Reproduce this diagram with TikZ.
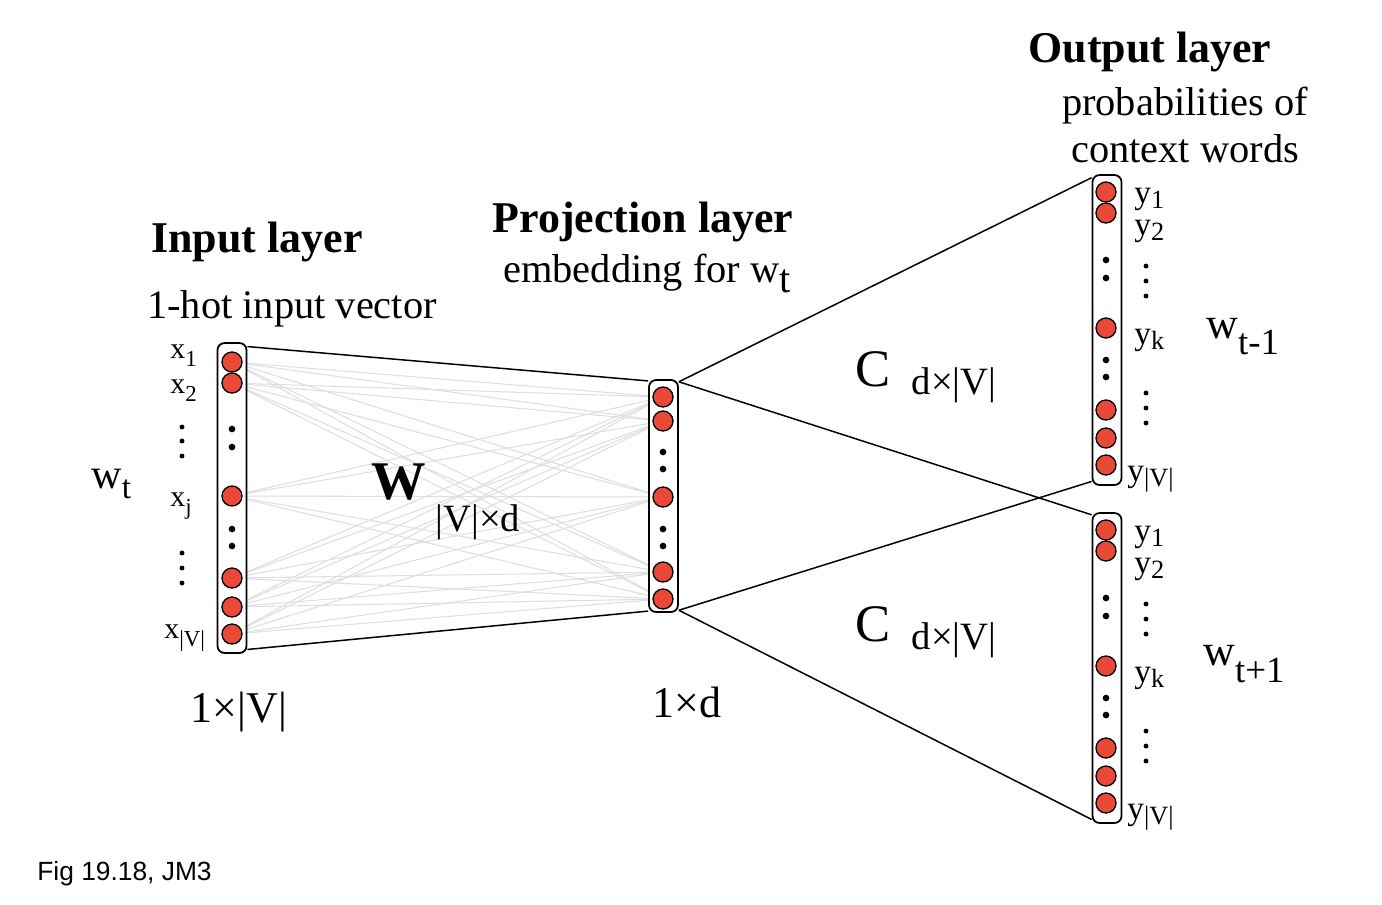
\documentclass[tikz,border=0pt]{standalone}
\usepackage{fontspec}
\setmainfont{Liberation Serif}
\newfontfamily\figfont{Liberation Sans}
\usetikzlibrary{positioning,backgrounds}
\definecolor{neuronred}{RGB}{233,74,56}
\definecolor{wiregray}{RGB}{222,222,222}
\newcommand{\lowsub}[3]{\raisebox{-#1}{\fontsize{#2}{#2}\selectfont #3}}

\begin{document}
\begin{tikzpicture}[x=0.02cm, y=-0.02cm,
    neuron/.style={circle, draw, fill=neuronred, line width=0.75pt, minimum size=0.4cm, inner sep=0pt},
    layerbox/.style={draw, fill=white, rounded corners=4pt, line width=1pt, minimum width=0.58cm, inner sep=0pt},
    layerhead/.style={font=\fontsize{25}{30}\selectfont\bfseries, anchor=base, inner sep=0pt},
    subhead/.style={font=\fontsize{23}{27}\selectfont, anchor=base, inner sep=0pt},
    xlab/.style={font=\fontsize{17}{17}\selectfont, anchor=base west, inner sep=0pt},
    ylab/.style={font=\fontsize{19}{19}\selectfont, anchor=base west, inner sep=0pt},
    wlab/.style={font=\fontsize{25}{25}\selectfont, anchor=base west, inner sep=0pt},
    matsym/.style={font=\fontsize{30}{30}\selectfont, anchor=base, inner sep=0pt},
    dimlab/.style={font=\fontsize{22}{22}\selectfont, anchor=base, inner sep=0pt},
    wire/.style={line width=0.85pt},
    graywire/.style={wiregray, line width=0.6pt}]

\useasboundingbox (0,0) rectangle (1382,904);

% layer boxes
\node[layerbox, minimum height=6.2cm] (in) at (232,498) {};
\node[layerbox, minimum height=4.64cm] (proj) at (663.5,496) {};
\node[layerbox, minimum height=6.2cm] (outA) at (1107,330) {};
\node[layerbox, minimum height=6.2cm] (outB) at (1107,668) {};

% neurons
\foreach \y [count=\i] in {362,383,496,578,607,634}
    \node[neuron] (in\i) at (232,\y) {};
\foreach \y [count=\i] in {397,421,497,572,599}
    \node[neuron] (pr\i) at (663,\y) {};
\foreach \y [count=\i] in {192,213,328,410,438,465} {
    \node[neuron] (oa\i) at (1106,\y) {};
    \node[neuron] (ob\i) at (1106,\y+338) {};
}

% dots
\foreach \y in {429,447,529,546} \fill (232,\y) circle (1.9pt);
\foreach \y in {452,469,529,546} \fill (663,\y) circle (1.9pt);
\foreach \y in {260,278,360,377} {
    \fill (1106,\y) circle (1.9pt);
    \fill (1106,\y+338) circle (1.9pt);
}
\foreach \y in {427,441,456,553,568,583} \fill (182,\y) circle (1.4pt);
\foreach \y in {266,281,296,393,408,423} {
    \fill (1146,\y) circle (1.4pt);
    \fill (1146,\y+338) circle (1.4pt);
}

\begin{scope}[on background layer]
\foreach \i in {1,...,6}
    \foreach \j in {1,...,5}
        \draw[graywire] (in\i) -- (pr\j);
\end{scope}

\draw[wire] ([yshift=-2.5pt]in.north east) -- ([yshift=-1pt]proj.north west);
\draw[wire] ([yshift=2.5pt]in.south east) -- ([yshift=1pt]proj.south west);
\draw[wire] ([yshift=-1.5pt]proj.north east) -- ([yshift=-2pt]outA.north west);
\draw[wire] ([yshift=-1.5pt]proj.north east) -- ([yshift=-1.5pt]outB.north west);
\draw[wire] ([yshift=1.5pt]proj.south east) -- ([yshift=2.5pt]outA.south west);
\draw[wire] ([yshift=1.5pt]proj.south east) -- ([yshift=2.5pt]outB.south west);

% labels
\node[xlab] (x1) at (170,358) {x\lowsub{5pt}{13}{1}};
\node[xlab] (x2) at (170,393) {x\lowsub{5pt}{13}{2}};
\node[xlab] (xj) at (170,506) {x\lowsub{5pt}{13}{j}};
\node[xlab] (xV) at (164,638) {x\lowsub{5pt}{13}{|V|}};
\foreach \d/\c in {0/A,338/B} {
    \node[ylab] (y1\c) at (1134,203+\d) {y\lowsub{3pt}{15}{1}};
    \node[ylab] (y2\c) at (1134,235+\d) {y\lowsub{3pt}{15}{2}};
    \node[ylab] (yk\c) at (1134,344+\d) {y\lowsub{3pt}{15}{k}};
    \node[ylab] (yV\c) at (1127,481+\d) {y\lowsub{3pt}{15}{|V|}};
}

\node[layerhead] (inhead) at (257,252) {Input layer};
\node[subhead] (insub) at (292,318) {1-hot input vector};
\node[layerhead] (projhead) at (643,232) {Projection layer};
\node[subhead, anchor=base west] (projsub) at (503,282) {embedding for w\lowsub{6pt}{23}{t}};
\node[layerhead] (outhead) at (1150,62) {Output layer};
\node[subhead] (outsub1) at (1185,115) {probabilities of};
\node[subhead] (outsub2) at (1185,162) {context words};

\node[wlab, font=\fontsize{24}{24}\selectfont] (wt) at (91,488) {w\lowsub{6pt}{19}{t}};
\node[wlab] (wprev) at (1206,338) {w\lowsub{9.5pt}{21}{t-1}};
\node[wlab] (wnext) at (1203,665) {w\lowsub{10pt}{21}{t+1}};

\node[matsym, font=\fontsize{31}{31}\selectfont\bfseries] (wmat) at (399,499) {W};
\node[dimlab] (wdim) at (478,531) {|V|×d};
\node[matsym] (cmatA) at (873,386) {C};
\node[dimlab] (cdimA) at (954,394) {d×|V|};
\node[matsym] (cmatB) at (873,641) {C};
\node[dimlab] (cdimB) at (954,649) {d×|V|};

\node[dimlab, font=\fontsize{25}{25}\selectfont] (indim) at (239,722) {1×|V|};
\node[dimlab, font=\fontsize{25}{25}\selectfont] (projdim) at (687,717) {1×d};

\node[font=\figfont\fontsize{15}{15}\selectfont, anchor=base west, inner sep=0pt] (fig) at (37,880) {Fig 19.18, JM3};
\end{tikzpicture}
\end{document}
